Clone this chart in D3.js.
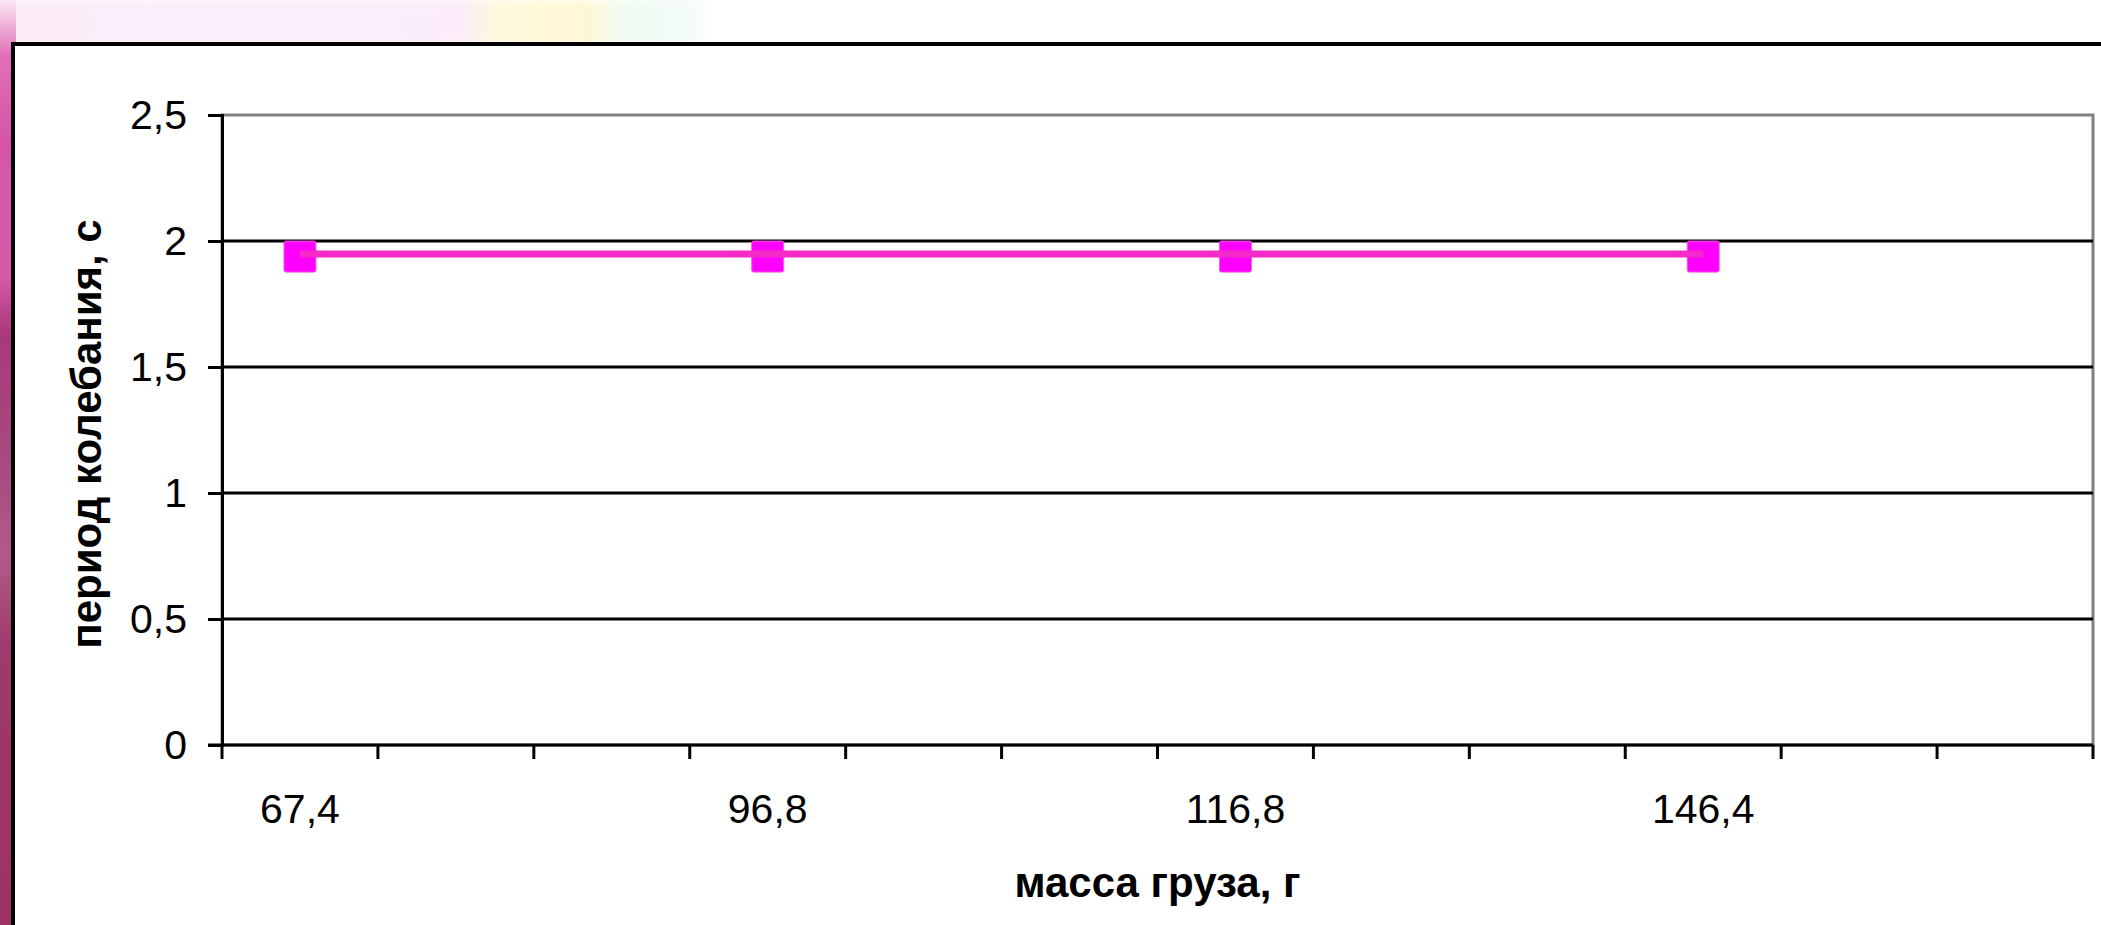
<!DOCTYPE html>
<html>
<head>
<meta charset="utf-8">
<script src="https://cdn.jsdelivr.net/npm/d3@7"></script>
<style>
  html, body { margin: 0; padding: 0; background: #fff; overflow: hidden; }
  svg { display: block; font-family: "Liberation Sans", Arial, sans-serif; }
</style>
</head>
<body>
<div id="chart"></div>
<script>
// Category labels (Excel category axis, 12 slots, only every third is labelled)
const categories = ['67,4', '', '', '96,8', '', '', '116,8', '', '', '146,4', '', ''];
// Period values per slot (null = empty slot)
const periods = [1.94, null, null, 1.94, null, null, 1.94, null, null, 1.94, null, null];
// Y axis ticks
const yTicks = [0, 0.5, 1, 1.5, 2, 2.5];

const xTitle = 'масса груза, г';
const yTitle = 'период колебания, с';

// Dimensions
const WIDTH = 2101;
const HEIGHT = 925;
const PLOT = { left: 222, right: 2093, top: 115, bottom: 745 };

const ru = d3.formatLocale({ decimal: ',', thousands: ' ', grouping: [3], currency: ['', ''] });
const fmt = ru.format('~g');

const svg = d3.select('#chart')
  .append('svg')
  .attr('width', WIDTH)
  .attr('height', HEIGHT);

const defs = svg.append('defs');

// Left strip gradient (slide background peeking out)
const leftGrad = defs.append('linearGradient')
  .attr('id', 'leftGrad')
  .attr('x1', 0).attr('y1', 0).attr('x2', 0).attr('y2', 1);
[[0, '#fbe6f3'], [0.06, '#e070b8'], [0.15, '#d655a8'], [0.3, '#d65aa8'], [0.36, '#a8397a'],
 [0.5, '#a8497f'], [0.6, '#b25a8c'], [0.7, '#a03a6c'], [1, '#9a3262']]
  .forEach(([o, c]) => leftGrad.append('stop').attr('offset', o).attr('stop-color', c));

// Top strip gradient
const topGrad = defs.append('linearGradient')
  .attr('id', 'topGrad')
  .attr('x1', 0).attr('y1', 0).attr('x2', 1).attr('y2', 0);
[[0, '#fbeaf6'], [0.2, '#fbeefa'], [0.65, '#fcecf9'], [0.7, '#fff9dc'], [0.82, '#fff7d4'],
 [0.88, '#f0fbf2'], [0.97, '#f3fcf6'], [1, '#ffffff']]
  .forEach(([o, c]) => topGrad.append('stop').attr('offset', o).attr('stop-color', c));

const blur = defs.append('filter').attr('id', 'soft')
  .attr('x', '-10%').attr('y', '-50%').attr('width', '120%').attr('height', '200%');
blur.append('feGaussianBlur').attr('stdDeviation', 4);

svg.append('rect')
  .attr('x', 0).attr('y', 0).attr('width', 710).attr('height', 46)
  .attr('fill', 'url(#topGrad)')
  .attr('filter', 'url(#soft)');

svg.append('rect')
  .attr('x', 0).attr('y', 0).attr('width', 16).attr('height', HEIGHT)
  .attr('fill', 'url(#leftGrad)');

// Chart frame
svg.append('rect')
  .attr('x', 13).attr('y', 44)
  .attr('width', WIDTH + 20).attr('height', HEIGHT)
  .attr('fill', '#fff')
  .attr('stroke', '#000')
  .attr('stroke-width', 4);

// Scales
const x = d3.scaleBand()
  .domain(categories.map((d, i) => i))
  .range([PLOT.left, PLOT.right])
  .padding(0);

const y = d3.scaleLinear()
  .domain([0, 2.5])
  .range([PLOT.bottom, PLOT.top]);

// Plot area
svg.append('rect')
  .attr('x', PLOT.left).attr('y', PLOT.top)
  .attr('width', PLOT.right - PLOT.left)
  .attr('height', PLOT.bottom - PLOT.top)
  .attr('fill', '#fff')
  .attr('stroke', '#808080')
  .attr('stroke-width', 3);

// Gridlines
svg.append('g')
  .selectAll('line')
  .data(yTicks.filter(d => d > 0 && d < 2.5))
  .enter()
  .append('line')
  .attr('x1', PLOT.left).attr('x2', PLOT.right)
  .attr('y1', d => y(d)).attr('y2', d => y(d))
  .attr('stroke', '#000')
  .attr('stroke-width', 3);

// Y axis
const yAxis = svg.append('g')
  .attr('transform', `translate(${PLOT.left},0)`)
  .call(d3.axisLeft(y).tickValues(yTicks).tickSize(14).tickPadding(21).tickFormat(fmt));
yAxis.select('.domain').attr('stroke', '#000').attr('stroke-width', 3);
yAxis.selectAll('.tick line').attr('stroke', '#000').attr('stroke-width', 3);
yAxis.selectAll('.tick text')
  .attr('fill', '#000')
  .style('font-size', '41px')
  .style('font-family', '"Liberation Sans", Arial, sans-serif');

// X axis line and ticks at category boundaries
const xg = svg.append('g');
xg.append('line')
  .attr('x1', PLOT.left - 14).attr('x2', PLOT.right)
  .attr('y1', PLOT.bottom).attr('y2', PLOT.bottom)
  .attr('stroke', '#000')
  .attr('stroke-width', 3);

const boundaries = categories.map((d, i) => x(i)).concat([x.range()[1]]);
xg.selectAll('line.tick')
  .data(boundaries)
  .enter()
  .append('line')
  .attr('class', 'tick')
  .attr('x1', d => d).attr('x2', d => d)
  .attr('y1', PLOT.bottom).attr('y2', PLOT.bottom + 14)
  .attr('stroke', '#000')
  .attr('stroke-width', 3);

xg.selectAll('text')
  .data(categories.map((label, i) => ({ label, i })).filter(d => d.label !== ''))
  .enter()
  .append('text')
  .attr('x', d => x(d.i) + x.bandwidth() / 2)
  .attr('y', 823)
  .attr('text-anchor', 'middle')
  .style('font-size', '41px')
  .text(d => d.label);

// Series
const points = periods
  .map((v, i) => ({ i, v }))
  .filter(d => d.v !== null);

svg.append('g')
  .selectAll('rect')
  .data(points)
  .enter()
  .append('rect')
  .attr('x', d => x(d.i) + x.bandwidth() / 2 - 16)
  .attr('y', d => y(d.v) - 15)
  .attr('width', 32)
  .attr('height', 31)
  .attr('rx', 2)
  .attr('fill', '#ff00ff')
  .attr('stroke', '#f55ce0')
  .attr('stroke-width', 1);

const line = d3.line()
  .x(d => x(d.i) + x.bandwidth() / 2)
  .y(d => y(d.v) - 2);

svg.append('path')
  .datum(points)
  .attr('d', line)
  .attr('fill', 'none')
  .attr('stroke', '#f42bc9')
  .attr('stroke-width', 7);

// Axis titles
svg.append('text')
  .attr('x', (PLOT.left + PLOT.right) / 2)
  .attr('y', 897)
  .attr('text-anchor', 'middle')
  .style('font-size', '42px')
  .style('font-weight', 'bold')
  .text(xTitle);

svg.append('text')
  .attr('transform', `translate(101,${(PLOT.top + PLOT.bottom) / 2 + 4}) rotate(-90)`)
  .attr('text-anchor', 'middle')
  .style('font-size', '42px')
  .style('font-weight', 'bold')
  .text(yTitle);
</script>
</body>
</html>
